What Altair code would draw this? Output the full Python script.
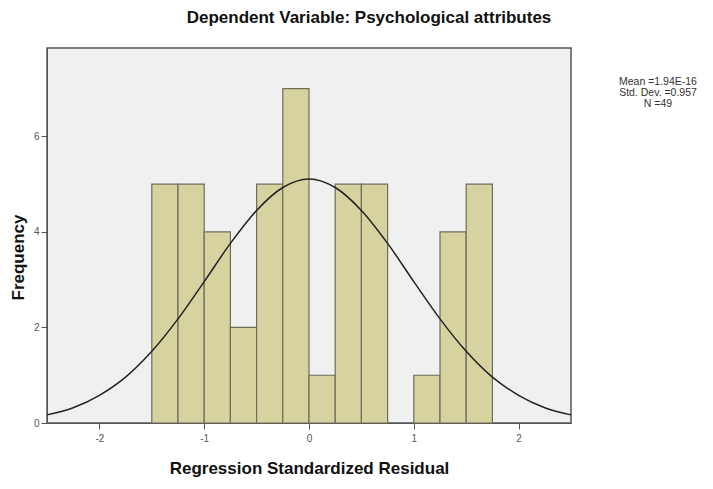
import altair as alt
import pandas as pd

bin_start = [-1.5, -1.25, -1.0, -0.75, -0.5, -0.25, 0.0, 0.25, 0.5, 0.75, 1.0, 1.25, 1.5]
counts = [5, 5, 4, 2, 5, 7, 1, 5, 5, 0, 1, 4, 5]
bin_width = 0.25

curve_x = [-2.5, -2.25, -2.0, -1.75, -1.5, -1.25, -1.0, -0.75, -0.5, -0.25, 0.0,
           0.25, 0.5, 0.75, 1.0, 1.25, 1.5, 1.75, 2.0, 2.25, 2.5]
curve_y = [0.17, 0.32, 0.58, 0.96, 1.50, 2.18, 2.96, 3.76, 4.45, 4.93, 5.11,
           4.93, 4.45, 3.76, 2.96, 2.18, 1.50, 0.96, 0.58, 0.32, 0.17]

stats_lines = ["Mean =1.94E-16", "Std. Dev. =0.957", "N =49"]

bars_df = pd.DataFrame({
    "start": bin_start,
    "end": [b + bin_width for b in bin_start],
    "count": counts,
})
bars_df = bars_df[bars_df["count"] > 0]
curve_df = pd.DataFrame({"x": curve_x, "y": curve_y})

FONT = "Liberation Sans"
W, H = 524, 375

xscale = alt.Scale(domain=[-2.5, 2.5], nice=False, zero=False)
yscale = alt.Scale(domain=[0, 7.85], nice=False)

xaxis = alt.Axis(values=[-2, -1, 0, 1, 2], title="Regression Standardized Residual",
                 grid=False, tickSize=6, labelFontSize=10, labelColor="#555",
                 titleFontSize=17, titleFont=FONT, labelFont=FONT, titleFontWeight="bold",
                 titleColor="#111", domainColor="#555", tickColor="#555",
                 labelPadding=4, titlePadding=17, labelExpr="datum.value + ''")
yaxis = alt.Axis(values=[0, 2, 4, 6], title="Frequency", grid=False, tickSize=6,
                 labelFontSize=10, labelColor="#555", titleFontSize=17, titleFont=FONT,
                 labelFont=FONT, titleFontWeight="bold", titleColor="#111",
                 domainColor="#555", tickColor="#555", labelPadding=2, titlePadding=6,
                 titleY=209, labelExpr="datum.value + ''")

bars = alt.Chart(bars_df).mark_rect(fill="#d6d3a1", stroke="#6e6d58", strokeWidth=1.2).encode(
    x=alt.X("start:Q", scale=xscale, axis=xaxis),
    x2="end:Q",
    y=alt.Y("count:Q", scale=yscale, axis=yaxis),
    y2=alt.datum(0),
)

curve = alt.Chart(curve_df).mark_line(color="#222", strokeWidth=1.5, interpolate="monotone").encode(
    x=alt.X("x:Q", scale=xscale),
    y=alt.Y("y:Q", scale=yscale),
)

stat_layers = []
for i, line in enumerate(stats_lines):
    stat_layers.append(
        alt.Chart(pd.DataFrame({"t": [line]})).mark_text(
            font=FONT, fontSize=10.5, color="#333", align="center", baseline="middle"
        ).encode(text="t:N", x=alt.value(611), y=alt.value(34 + 11 * i))
    )

chart = alt.layer(bars, curve, *stat_layers).properties(
    width=W, height=H,
    title=alt.Title("Dependent Variable: Psychological attributes", font=FONT, fontSize=17,
                    fontWeight="bold", color="#111", anchor="middle", dx=60, offset=21),
    autosize=alt.AutoSizeParams(type="none"),
    padding={"left": 39, "top": 40, "right": 134, "bottom": 58},
).configure_view(fill="#f0f0f0", stroke="#555", strokeWidth=1.5)

chart.save("out.html", embed_options={"renderer": "svg", "actions": False})
